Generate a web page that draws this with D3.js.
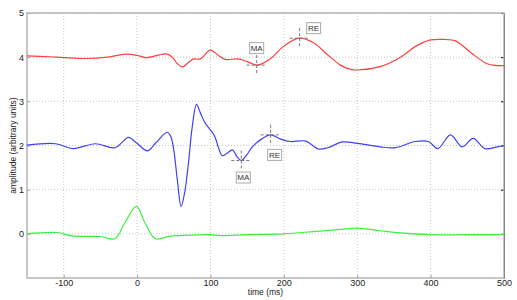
<!DOCTYPE html>
<html>
<head>
<meta charset="utf-8">
<script src="https://cdn.jsdelivr.net/npm/d3@7"></script>
<style>
body{margin:0;background:#fff}
text{font-family:"Liberation Sans",Arial,sans-serif}
</style>
</head>
<body>
<script>
// traces: [time ms, amplitude]
var redT=[-150,-120,-100,-70,-40,-16,0,12,30,41,48,55,62,70,77,86,100,110,120,137,150,164,182,200,221,240,260,277,290,300,330,359,380,400,420,434,455,477,490,500]
var redV=[4.03,4.01,3.99,3.97,4.0,4.07,4.04,3.99,4.05,4.07,4.0,3.85,3.78,3.88,3.96,3.96,4.16,4.05,3.95,3.96,3.9,3.82,3.97,4.25,4.43,4.33,4.05,3.82,3.73,3.71,3.78,4.0,4.25,4.39,4.40,4.37,4.1,3.85,3.81,3.81]
var blueT=[-150,-111,-87,-57,-30,-13,-9,0,14,25,41,46,50,55,60,65,70,75,81,86,93,100,106,111,116,122,130,136,142,150,157,170,182,195,209,230,247,260,280,300,331,352,379,397,410,427,443,458,474,491,500]
var blueV=[2.01,2.04,1.93,2.04,1.95,2.18,2.17,2.05,1.88,2.05,2.3,2.2,1.9,1.2,0.62,0.95,1.6,2.4,2.93,2.75,2.5,2.35,2.2,1.95,1.77,1.82,1.9,1.75,1.66,1.8,1.97,2.15,2.24,2.15,2.09,2.1,1.92,1.95,2.08,2.05,1.97,1.95,2.09,2.09,1.93,2.24,1.97,2.16,1.93,1.97,2.0]
var greenT=[-150,-109,-87,-50,-30,-17,-1,11,25,45,70,100,114,150,199,240,277,300,331,359,400,450,500]
var greenV=[0.0,0.03,-0.05,-0.06,-0.11,0.24,0.62,0.24,-0.11,-0.05,-0.03,-0.02,-0.04,-0.02,0.0,0.05,0.1,0.13,0.07,0.02,-0.02,-0.02,-0.02]
var xTicks=[-100,0,100,200,300,400,500]
var yTicks=[0,1,2,3,4,5]
// markers: label, time, amplitude, label offset
var marks=[
  {label:"MA",t:163,v:3.82,dx:0,dy:-17},
  {label:"RE",t:221.5,v:4.43,dx:14,dy:-10},
  {label:"MA",t:142,v:1.66,dx:2,dy:17},
  {label:"RE",t:182,v:2.24,dx:4,dy:20}
]

var W=517,H=300
var m={left:27,right:13,top:13,bottom:22}
var svg=d3.select("body").append("svg").attr("width",W).attr("height",H)
var x=d3.scaleLinear().domain([-150,500]).range([m.left,W-m.right])
var y=d3.scaleLinear().domain([-1,5]).range([H-m.bottom,m.top])
var fmt=function(d){return String(d)}

// grid
svg.append("g").selectAll("line").data(xTicks).enter().append("line")
  .attr("x1",d=>x(d)).attr("x2",d=>x(d)).attr("y1",y(-1)).attr("y2",y(5))
  .attr("stroke","#c8c8c8").attr("stroke-dasharray","1,2")
svg.append("g").selectAll("line").data(yTicks).enter().append("line")
  .attr("y1",d=>y(d)).attr("y2",d=>y(d)).attr("x1",x(-150)).attr("x2",x(500))
  .attr("stroke","#c8c8c8").attr("stroke-dasharray","1,2")

// ticks + labels
var xa=svg.append("g").attr("transform","translate(0,"+y(-1)+")")
  .call(d3.axisBottom(x).tickValues(xTicks).tickSizeInner(-3).tickSizeOuter(0).tickPadding(2).tickFormat(fmt))
var ya=svg.append("g").attr("transform","translate("+x(-150)+",0)")
  .call(d3.axisLeft(y).tickValues(yTicks).tickSizeInner(-3).tickSizeOuter(0).tickPadding(3).tickFormat(fmt))
svg.append("g").attr("transform","translate("+x(500)+",0)")
  .call(d3.axisRight(y).tickValues(yTicks).tickSizeInner(-3).tickSizeOuter(0).tickFormat(""))
;[xa,ya].forEach(function(a){
  a.select(".domain").remove()
  a.selectAll("line").attr("stroke","#999")
  a.selectAll("text").attr("font-size",9).attr("fill","#222")
})

// frame
svg.append("rect").attr("x",x(-150)).attr("y",y(5)).attr("width",x(500)-x(-150)).attr("height",y(-1)-y(5))
  .attr("fill","none").attr("stroke","#b4b4b4").attr("stroke-width",1.5)

var line=d3.line().x(d=>x(d[0])).y(d=>y(d[1])).curve(d3.curveCatmullRom.alpha(0.5))
function draw(t,v,c){
  svg.append("path").datum(t.map((d,i)=>[d,v[i]])).attr("d",line)
    .attr("fill","none").attr("stroke",c).attr("stroke-width",1.2)
}
draw(redT,redV,"#ff4040")
draw(blueT,blueV,"#4040ff")
draw(greenT,greenV,"#40ee40")

// crosshair markers
marks.forEach(function(k){
  var px=x(k.t),py=y(k.v)
  svg.append("line").attr("x1",px-10).attr("x2",px+10).attr("y1",py).attr("y2",py)
    .attr("stroke","#777").attr("stroke-dasharray","3,2")
  svg.append("line").attr("x1",px).attr("x2",px).attr("y1",py-10).attr("y2",py+10)
    .attr("stroke","#777").attr("stroke-dasharray","3,2")
  var g=svg.append("g").attr("transform","translate("+(px+k.dx)+","+(py+k.dy)+")")
  g.append("rect").attr("x",-7).attr("y",-5.5).attr("width",14).attr("height",11)
    .attr("fill","#fff").attr("stroke","#aaa")
  g.append("text").attr("text-anchor","middle").attr("dy","0.35em").attr("font-size",8).attr("fill","#333").text(k.label)
})

svg.append("text").attr("x",(x(-150)+x(500))/2).attr("y",H-5).attr("text-anchor","middle")
  .attr("font-size",8.5).attr("fill","#222").text("time (ms)")
svg.append("text").attr("transform","translate(13,"+((y(-1)+y(5))/2)+") rotate(-90)")
  .attr("text-anchor","middle").attr("dy","0.35em").attr("font-size",8.5).attr("fill","#222").text("amplitude (arbitrary units)")
</script>
</body>
</html>
